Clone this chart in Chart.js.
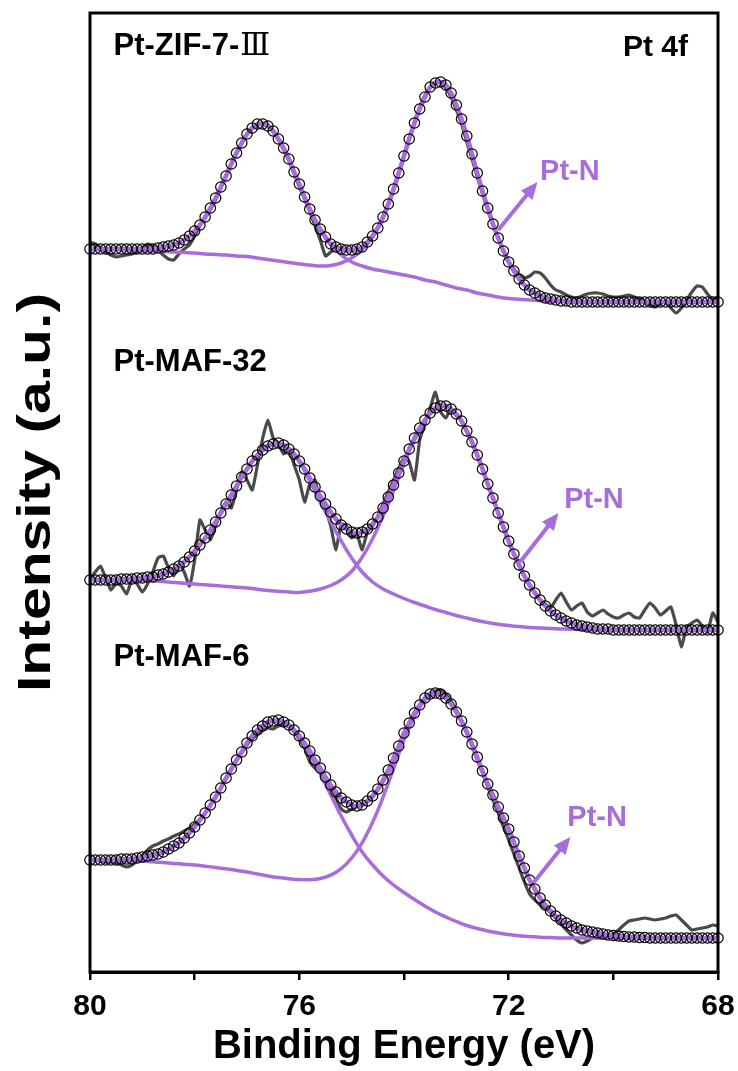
<!DOCTYPE html>
<html>
<head>
<meta charset="utf-8">
<script src="https://cdn.jsdelivr.net/npm/chart.js@4.4.1/dist/chart.umd.min.js"></script>
<style>
  html, body { margin: 0; padding: 0; background: #fff; }
  #wrap { width: 738px; height: 1071px; }
</style>
</head>
<body>
<div id="wrap"><canvas id="xps" width="738" height="1071"></canvas></div>
<script>
// Pt 4f XPS spectra, binding energy 80 -> 68 eV, three samples stacked
const samples = ['Pt-ZIF-7-', 'Pt-MAF-32', 'Pt-MAF-6'];
const offsets = [670, 342, 34];          // vertical shift of each spectrum
const xTicks = [80, 76, 72, 68];
const eStart = 80, fineStep = 0.1, compStep = 0.2;

// --- Pt-ZIF-7-III ---
const env1 = [53,53,53,53,53,53,53,53,53,53,53,
  53,53,54,55,56,57,59,62,66,71,
  77,85,94,104,115,126,138,149,159,168,
  174,178,178,176,171,163,154,143,130,118,
  105,93,82,73,65,58,55,53,52,52,
  53,55,60,66,74,85,98,113,129,146,
  163,179,193,205,215,219,220,217,209,197,
  183,166,148,129,111,94,78,64,51,40,
  31,23,17,12,9,6,4,3,2,1,
  1,0,0,0,0,0,0,0,0,0,
  0,0,0,0,0,0,0,0,0,0,
  0,0,0,0,0,0,0,0,0,0];
const raw1 = [60,58,54,50,47,45,46,47,48,50,54,
  58,56,52,47,43,42,48,53,57,66,
  76,84,92,102,114,127,139,150,160,168,
  173,177,179,177,170,162,152,141,128,115,
  103,90,76,62,46,50,54,54,52,52,
  52,55,60,67,75,86,99,113,130,147,
  164,180,195,207,215,220,219,214,205,192,
  178,160,143,125,108,92,77,64,52,41,
  33,27,24,26,30,29,24,17,12,10,
  7,5,4,6,8,9,9,8,6,5,
  5,6,7,5,3,1,-3,-5,-2,1,
  -6,-11,-6,2,10,16,15,8,3,5];
const compA1 = [53,53,53,53,53,53,53,55,57,62,71,
  85,104,126,149,168,178,176,163,143,118,
  93,72,57,47,40,36,33,31,29,27,
  25,22,20,17,14,12,9,7,5,3.5,
  2.7,1.9,1.3,0.9,0.5,0.3,0.1,0,0,0,
  0,0,0,0,0,0,0,0,0,0];
const compB1 = [53,53,53,52.5,52,51.5,51,50.5,50,49.5,49,
  48,47.5,47,46,45.5,44,42.5,41,39.5,38,
  37,36,36.5,39,44,52,65,84,112,146,
  179,205,219,217,197,166,129,94,64,40,
  23,12,6,3,1,0.5,0,0,0,0,
  0,0,0,0,0,0,0,0,0,0];

// --- Pt-MAF-32 ---
const env2 = [50,50,50,50,50,50,51,51,51,52,52,
  53,53,55,56,58,61,64,68,73,79,
  85,92,100,108,117,126,135,144,153,161,
  169,175,180,184,186,187,185,181,176,169,
  161,152,143,134,126,118,111,105,101,98,
  97,98,101,106,113,122,133,145,157,169,
  181,192,202,210,217,222,224,224,221,216,
  209,199,188,175,161,146,132,117,103,89,
  76,65,54,45,37,30,24,19,15,12,
  9,7,5,4,3,2,1,1,1,0,
  0,0,0,0,0,0,0,0,0,0,
  0,0,0,0,0,0,0,0,0,0];
const raw2 = [50,58,64,52,40,47,44,36,50,46,38,
  46,58,72,74,62,54,66,58,44,70,
  110,100,90,104,118,128,122,140,158,150,
  140,165,192,210,192,186,176,180,165,150,
  128,146,150,128,120,104,80,106,104,92,
  96,80,98,104,114,126,138,150,162,172,
  168,150,190,206,222,238,218,212,222,214,
  210,198,188,174,162,146,132,118,102,88,
  76,64,54,44,38,30,26,22,30,37,
  28,20,24,27,18,14,17,20,16,13,
  12,15,17,13,12,20,27,22,15,19,
  23,5,-17,3,7,10,4,-2,17,8];
const compA2 = [50,50,50,51,51,52,53,56,61,68,79,
  92,108,126,144,161,175,184,186,181,168,
  149,128,108,89,72,58,48,41,36,31.5,
  27.5,24,20.5,17.5,14.5,12,9.5,7.5,5.8,4.4,
  3.4,2.6,2,1.5,1.1,0.8,0.5,0.3,0.1,0,
  0,0,0,0,0,0,0,0,0,0];
const compB2 = [50,50,50,50,50,50,49.2,48.4,47.6,46.8,46,
  45.2,44.4,43.6,42.8,42,40.8,39.6,38.8,38,37.6,
  38.8,41,44.5,50,58.7,72.8,91.3,113.9,139.3,166.2,
  189.8,208.9,220.9,223.4,216.1,198.9,174.6,146.3,116.8,88.8,
  64.8,45.1,30,19.3,11.8,7,3.9,2,1,0.4,
  0.1,0,0,0,0,0,0,0,0,0];

// --- Pt-MAF-6 ---
const env3 = [78,78,78,78,78,78,79,79,79,80,81,
  82,83,84,86,89,92,95,100,105,111,
  118,125,133,141,150,160,169,178,186,195,
  202,208,212,216,217,218,216,213,208,202,
  195,187,178,170,161,153,146,140,136,133,
  132,133,137,142,149,158,168,180,192,205,
  215,225,233,240,244,245,244,240,234,226,
  217,206,194,181,167,154,143,131,120,109,
  96,82,70,58,49,40,33,27,22,18,
  15,12,10,8,7,6,5,4,3,2.5,
  2,1.5,1,1,0.5,0.5,0,0,0,0,
  0,0,0,0,0,0,0,0,0,0];
const raw3 = [79,78,77,76,76,75,73,71,73,77,82,
  88,92,94,97,99,102,104,107,110,114,
  119,125,133,141,150,159,168,177,185,193,
  199,204,208,210,209,212,213,211,206,199,
  190,176,170,167,160,150,140,129,126,129,
  132,134,136,141,148,156,166,178,190,202,
  213,223,232,239,244,247,248,244,237,228,
  218,206,193,179,165,151,138,125,111,98,
  84,70,56,44,38,33,30,25,20,14,
  8,3,-2,-5,-3,0,1,1,2,4,
  8,13,17,18,19,20,19,18,19,20,
  22,23,18,13,8,9,10,11,13,12];
const compA3 = [78,78,78,78.5,79,81,83,86,92,100,111,
  125,141,160,178,195,208,216,217,212,201,
  184,164,143,122,103,86,73,62,53,45.5,
  38.5,32,26,21,16.5,12.5,9.5,7,5,3.5,
  2.3,1.4,0.8,0.4,0,0,0,0,0,0,
  0,0,0,0,0,0,0,0,0,0];
const compB3 = [78,77.8,77.6,77.4,77.2,77,76.2,75.4,74.6,73.8,73,
  71.8,70.6,69.2,67.6,66,64,62.1,60.5,59.3,58.4,
  58.3,59.5,62.9,69.4,80,95.2,115.7,140.9,169.2,198.1,
  221.1,237.5,244,239.5,225.1,204.6,177.6,153.8,131.3,109,
  82,58,39.8,26.7,18,12,8,6,4,2.5,
  1.5,1,0.5,0,0,0,0,0,0,0];

const spectra = [
  { raw: raw1, env: env1, compA: compA1, compB: compB1 },
  { raw: raw2, env: env2, compA: compA2, compB: compB2 },
  { raw: raw3, env: env3, compA: compA3, compB: compB3 }
];

const purple = '#a66ddb';
const sans = 'Arial, "Liberation Sans", sans-serif';

function toPoints(arr, step, off) {
  return arr.map((v, i) => ({ x: +(eStart - i * step).toFixed(1), y: v + off }));
}

const datasets = [];
spectra.forEach((s, k) => {
  const off = offsets[k];
  datasets.push({ data: toPoints(s.env, fineStep, off), showLine: false, pointRadius: 5.2,
    pointBorderColor: '#000', pointBackgroundColor: 'rgba(0,0,0,0)', pointBorderWidth: 1.2, order: 1, clip: false });
  datasets.push({ data: toPoints(s.env, fineStep, off), showLine: true, borderColor: purple, borderWidth: 4.5,
    pointRadius: 0, tension: 0.3, order: 2 });
  datasets.push({ data: toPoints(s.compA, compStep, off), showLine: true, borderColor: purple, borderWidth: 3.5,
    pointRadius: 0, tension: 0.4, order: 3 });
  datasets.push({ data: toPoints(s.compB, compStep, off), showLine: true, borderColor: purple, borderWidth: 3.5,
    pointRadius: 0, tension: 0.4, order: 3 });
  datasets.push({ data: toPoints(s.raw, fineStep, off), showLine: true, borderColor: '#4a4a4a', borderWidth: 3.2,
    pointRadius: 0, tension: 0.15, order: 4, clip: false });
});

// labels inside the frame, positioned in data units
const nameSpots = [{ e: 79.55, v: 926 }, { e: 79.55, v: 610 }, { e: 79.55, v: 315 }];
const ptN = [
  { e: 70.83, v: 800, from: [72.2, 742], to: [71.45, 790] },
  { e: 70.37, v: 472, from: [71.78, 410], to: [71.05, 459] },
  { e: 70.31, v: 154, from: [71.53, 89], to: [70.82, 135] }
];

const notes = {
  id: 'notes',
  afterDatasetsDraw(chart) {
    const { ctx, chartArea: a, scales: { x, y } } = chart;
    ctx.save();
    ctx.strokeStyle = '#000';
    ctx.lineWidth = 3;
    ctx.strokeRect(a.left, a.top, a.right - a.left, a.bottom - a.top);

    ctx.textBaseline = 'middle';
    ctx.fillStyle = '#000';
    samples.forEach((name, k) => {
      const px = x.getPixelForValue(nameSpots[k].e), py = y.getPixelForValue(nameSpots[k].v);
      ctx.font = 'bold 31px ' + sans;
      ctx.textAlign = 'left';
      ctx.fillText(name, px, py);
      if (k === 0) {
        const w = ctx.measureText(name).width;
        ctx.font = '31px "DejaVu Serif", "Noto Sans CJK SC", serif';
        ctx.fillText('\u2162', px + w + 1, py + 1);
      }
    });
    ctx.font = 'bold 30px ' + sans;
    ctx.textAlign = 'right';
    ctx.fillText('Pt 4f', a.right - 30, y.getPixelForValue(924));

    ptN.forEach(p => {
      ctx.fillStyle = purple;
      ctx.strokeStyle = purple;
      ctx.font = 'bold 29px ' + sans;
      ctx.textAlign = 'center';
      ctx.fillText('Pt-N', x.getPixelForValue(p.e), y.getPixelForValue(p.v));
      const x0 = x.getPixelForValue(p.from[0]), y0 = y.getPixelForValue(p.from[1]);
      const x1 = x.getPixelForValue(p.to[0]), y1 = y.getPixelForValue(p.to[1]);
      const ang = Math.atan2(y1 - y0, x1 - x0), head = 17;
      ctx.lineWidth = 4;
      ctx.beginPath();
      ctx.moveTo(x0, y0);
      ctx.lineTo(x1 - head * 0.8 * Math.cos(ang), y1 - head * 0.8 * Math.sin(ang));
      ctx.stroke();
      ctx.beginPath();
      ctx.moveTo(x1, y1);
      ctx.lineTo(x1 - head * Math.cos(ang) + 7.5 * Math.sin(ang), y1 - head * Math.sin(ang) - 7.5 * Math.cos(ang));
      ctx.lineTo(x1 - head * Math.cos(ang) - 7.5 * Math.sin(ang), y1 - head * Math.sin(ang) + 7.5 * Math.cos(ang));
      ctx.closePath();
      ctx.fill();
    });

    // y axis title, tall lettering as in the original figure
    ctx.fillStyle = '#000';
    ctx.font = 'bold 46px ' + sans;
    ctx.textAlign = 'center';
    ctx.translate(37, (a.top + a.bottom) / 2);
    ctx.rotate(-Math.PI / 2);
    ctx.scale(1.28, 1);
    ctx.fillText('Intensity (a.u.)', 0, 0);
    ctx.restore();
  }
};

new Chart(document.getElementById('xps'), {
  type: 'scatter',
  data: { datasets: datasets },
  options: {
    responsive: false,
    animation: false,
    events: [],
    layout: { padding: { left: 0, right: 20, top: 13, bottom: 0 } },
    plugins: { legend: { display: false }, tooltip: { enabled: false } },
    scales: {
      x: {
        type: 'linear', min: 68, max: 80, reverse: true,
        afterFit: s => { s.height = 99; s.paddingLeft = 0; s.paddingRight = 0; },
        ticks: {
          stepSize: 2, autoSkip: false, maxRotation: 0, padding: 9, color: '#000',
          font: { family: sans, size: 30, weight: 'bold' },
          callback: v => xTicks.includes(v) ? String(v) : ''
        },
        grid: { drawOnChartArea: false, drawTicks: true, tickLength: 8, color: '#000', lineWidth: 2.5 },
        border: { display: true, color: '#000', width: 3 },
        title: { display: true, text: 'Binding Energy (eV)', color: '#000',
          font: { family: sans, size: 40, weight: 'bold' }, padding: { top: 0, bottom: 0 } }
      },
      y: {
        min: 0, max: 959,
        afterFit: s => { s.width = 90; },
        ticks: { display: false },
        grid: { display: false },
        border: { display: false },
        title: { display: false }
      }
    }
  },
  plugins: [notes]
});
</script>
</body>
</html>
